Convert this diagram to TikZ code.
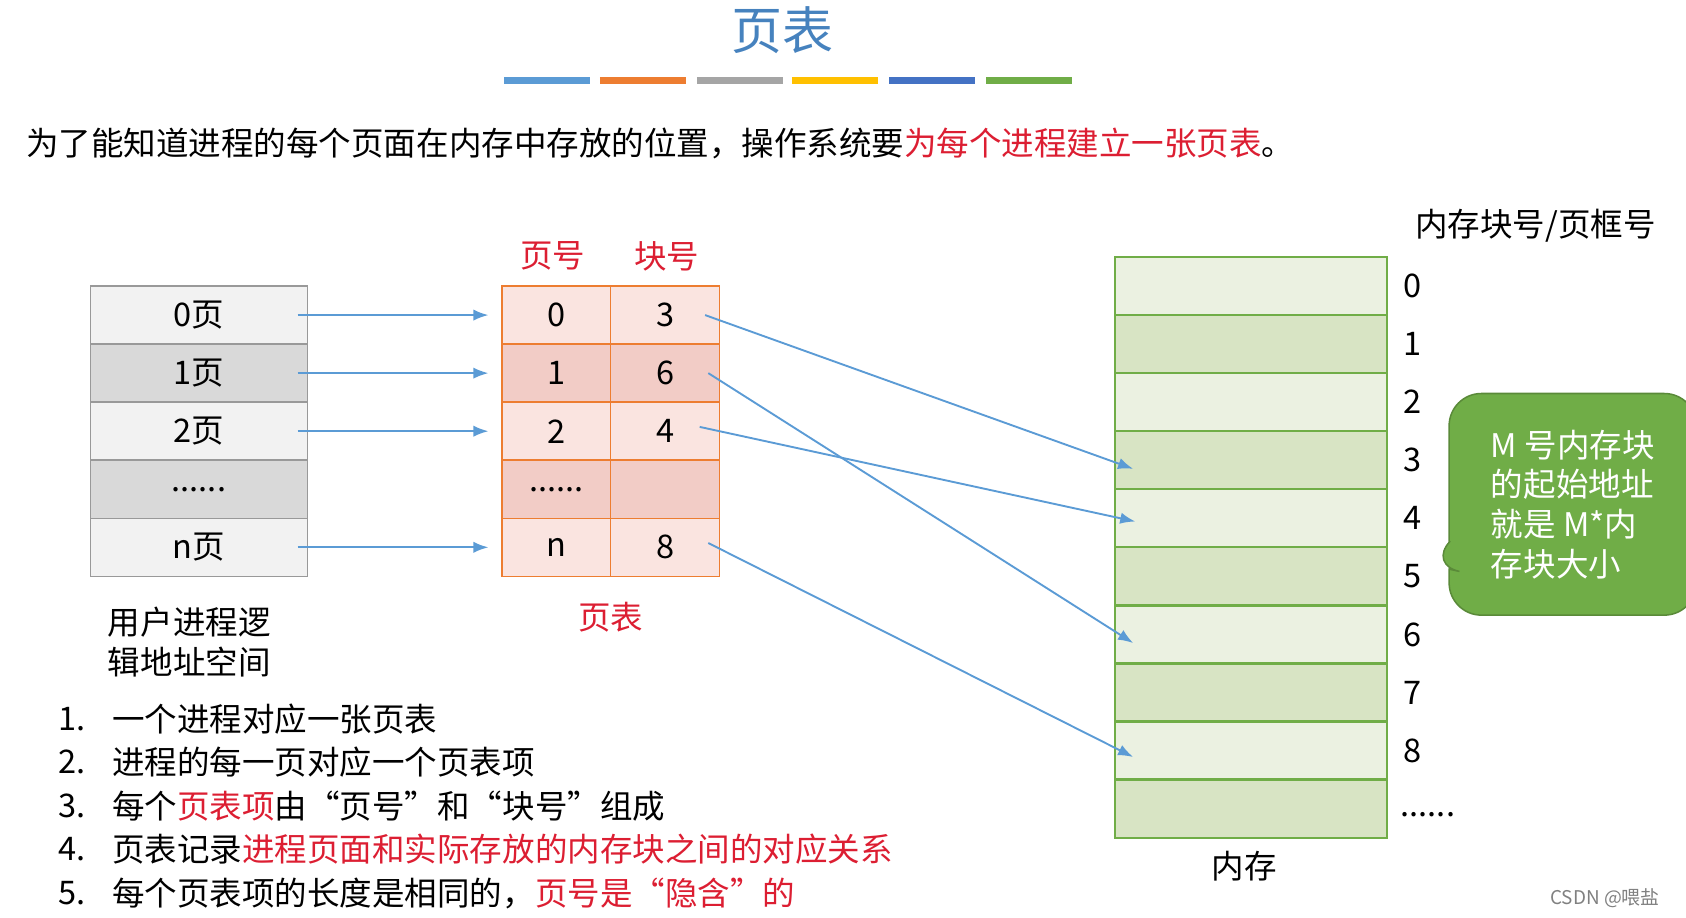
\documentclass[tikz,border=0pt]{standalone}
\usepackage{fontspec}
\setmainfont{Noto Sans CJK SC}
\usetikzlibrary{arrows.meta,shapes.callouts}
\definecolor{tblue}{RGB}{70,130,190}
\definecolor{cb1}{RGB}{91,155,213}
\definecolor{cb2}{RGB}{237,125,49}
\definecolor{cb3}{RGB}{165,165,165}
\definecolor{cb4}{RGB}{255,192,0}
\definecolor{cb5}{RGB}{68,114,196}
\definecolor{cb6}{RGB}{112,173,71}
\definecolor{tred}{RGB}{220,30,50}
\definecolor{g1}{RGB}{242,242,242}
\definecolor{g2}{RGB}{217,217,217}
\definecolor{p1}{RGB}{250,228,224}
\definecolor{p2}{RGB}{242,204,198}
\definecolor{m1}{RGB}{235,241,225}
\definecolor{m2}{RGB}{216,228,196}
\newcommand{\mydots}{......}
\tikzset{
 txt/.style={font=\fontsize{8.6}{10.5}\selectfont},
 lcell/.style={draw=gray!80,minimum width=2.02cm,minimum height=0.54cm,inner sep=0pt,txt},
 pcell/.style={draw=cb2,minimum width=1.01cm,minimum height=0.54cm,inner sep=0pt,txt},
 mcell/.style={draw=cb6,line width=0.6pt,minimum width=2.53cm,minimum height=0.54cm,inner sep=0pt},
 arr/.style={-{Latex[length=4pt,width=3pt]},draw=cb1,line width=0.5pt},
 bar/.style={line width=1.8pt}
}
\begin{document}
\begin{tikzpicture}[x=0.01cm,y=-0.01cm]
\useasboundingbox (0,0) rectangle (1568,853);
\node[text=tblue,font=\fontsize{13.5}{15}\selectfont] (title) at (728,28) {页表};
\foreach \a/\c in {469/cb1,558/cb2,648/cb3,737/cb4,827/cb5,917/cb6}
  \draw[bar,\c] (\a,75) -- ++(80,0);
\node[txt,anchor=west] (intro) at (12,133) {为了能知道进程的每个页面在内存中存放的位置，操作系统要\textcolor{tred}{为每个进程建立一张页表}。};
% left table
\foreach \i/\t/\f in {0/0页/g1,1/1页/g2,2/2页/g1,3/\mydots/g2,4/n页/g1}
  \node[lcell,fill=\f] (l\i) at (185,{293+54*\i}) {\t};
\node[txt,align=left,anchor=north west] (llab) at (88,552) {用户进程逻\\辑地址空间};
% page table
\node[txt,text=tred] (h1) at (514,238) {页号};
\node[txt,text=tred] (h2) at (620,238) {块号};
\foreach \i/\a/\b/\f in {0/0/3/p1,1/1/6/p2,2/2/4/p1,3/\mydots/{}/p2,4/n/8/p1}{
  \node[pcell,fill=\f] (a\i) at (517.5,{293+54*\i}) {\a};
  \node[pcell,fill=\f] (b\i) at (618.5,{293+54*\i}) {\b};
}
\node[txt,text=tred] (ptlab) at (568,574) {页表};
% arrows left to table
\foreach \i in {0,1,2,4}{
  \coordinate (s\i) at ([xshift=-0.1cm]l\i.east);
  \coordinate (e\i) at ([xshift=-0.12cm]a\i.west);
  \draw[arr] (s\i) -- (e\i);
}
% memory
\foreach \i in {0,1,2,3,4,5,6,7,8,9}{
  \pgfmathtruncatemacro\r{mod(\i,2)}
  \ifnum\r=0 \def\ff{m1}\else\def\ff{m2}\fi
  \node[mcell,fill=\ff] (m\i) at (1163.5,{266+54*\i}) {};
}
\foreach \i in {0,1,2,3,4,5,6,7,8}
  \node[txt] (n\i) at (1314,{266+54*\i}) {\i};
\node[txt] (ndots) at (1328,758) {\mydots};
\node[txt] (mhead) at (1428,210) {内存块号/页框号};
\node[txt] (mlab) at (1157,806) {内存};
% mapping arrows
\coordinate (t3) at ([xshift=0.18cm,yshift=-0.08cm]m3.west);
\coordinate (t4) at ([xshift=0.2cm,yshift=-0.03cm]m4.west);
\coordinate (t6) at ([xshift=0.18cm,yshift=-0.08cm]m6.west);
\coordinate (t8) at ([xshift=0.18cm,yshift=-0.06cm]m8.west);
\draw[arr] ([xshift=-0.14cm]b0.east) -- (t3);
\draw[arr] ([xshift=-0.11cm]b1.east) -- (t6);
\draw[arr] ([xshift=-0.19cm,yshift=0.04cm]b2.east) -- (t4);
\draw[arr] ([xshift=-0.11cm,yshift=0.04cm]b4.east) -- (t8);
% callout
\node[rectangle callout,rounded corners=0.3cm,fill=cb6,draw=cb6!80!black,
  minimum width=2.3cm,minimum height=2.06cm,text=white,align=left,txt,
  callout absolute pointer={(1328,525)},anchor=west,inner sep=2pt] (call) at (1347,469)
  {M 号内存块\\的起始地址\\就是 M*内\\存块大小};
% list
\foreach \i/\t in {1/{一个进程对应一张页表},2/{进程的每一页对应一个页表项},3/{每个\textcolor{tred}{页表项}由“页号”和“块号”组成},4/{页表记录\textcolor{tred}{进程页面和实际存放的内存块之间的对应关系}},5/{每个页表项的长度是相同的，\textcolor{tred}{页号是“隐含”的}}}{
  \node[txt,anchor=west] (k\i) at (42,{628+40.5*\i}) {\i.};
  \node[txt,anchor=west] (li\i) at (92,{628+40.5*\i}) {\t};
}
\node[font=\fontsize{5}{6}\selectfont,text=gray,anchor=east] (wm) at (1556,835) {CSDN @喂盐};
\end{tikzpicture}
\end{document}
